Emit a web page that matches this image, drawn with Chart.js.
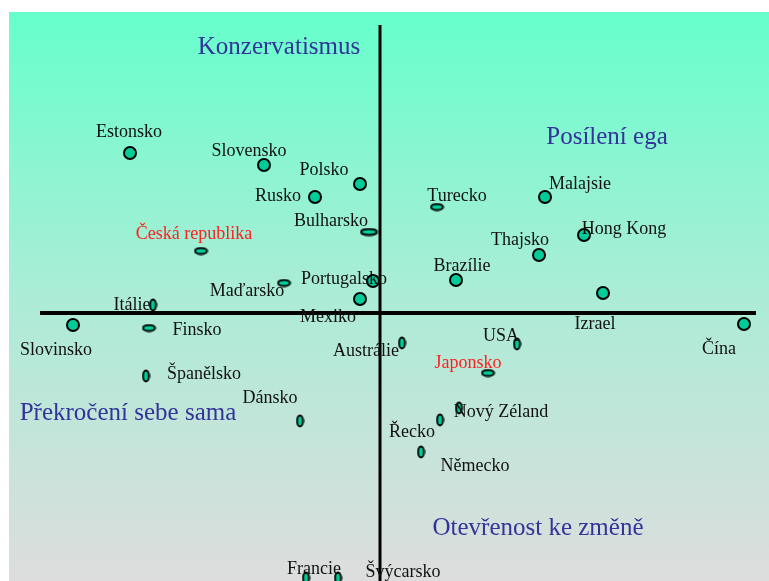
<!DOCTYPE html>
<html>
<head>
<meta charset="utf-8">
<script src="https://cdn.jsdelivr.net/npm/chart.js@4/dist/chart.umd.min.js"></script>
<style>
  body { margin: 0; background: #fff; }
  #wrap { width: 769px; height: 581px; }
</style>
</head>
<body>
<div id="wrap"><canvas id="chart" width="769" height="581"></canvas></div>
<script>
// countries and their positions on the two value dimensions
const countries = ["Estonsko", "Slovensko", "Polsko", "Rusko", "Bulharsko", "Česká republika", "Maďarsko",
  "Portugalsko", "Mexiko", "Itálie", "Slovinsko", "Finsko", "Španělsko", "Dánsko", "Francie", "Švýcarsko",
  "Austrálie", "USA", "Japonsko", "Nový Zéland", "Řecko", "Německo", "Izrael", "Čína", "Turecko",
  "Malajsie", "Hong Kong", "Thajsko", "Brazílie"];
const xValues = [-2.50, -1.16, -0.20, -0.65, -0.11, -1.79, -0.96,
  -0.07, -0.20, -2.27, -3.07, -2.31, -2.34, -0.80, -0.74, -0.42,
  0.22, 1.37, 1.08, 0.79, 0.60, 0.41, 2.23, 3.64, 0.57,
  1.65, 2.04, 1.59, 0.76];
const yValues = [1.60, 1.48, 1.29, 1.16, 0.81, 0.62, 0.30,
  0.32, 0.14, 0.08, -0.12, -0.15, -0.63, -1.08, -2.65, -2.65,
  -0.30, -0.31, -0.60, -0.95, -1.07, -1.39, 0.20, -0.11, 1.06,
  1.16, 0.78, 0.58, 0.33];
const highlighted = ["Česká republika", "Japonsko"];

// quadrant names
const quadrantNames = ["Konzervatismus", "Posílení ega", "Překročení sebe sama", "Otevřenost ke změně"];

// marker shape per country: c = circle, h = flat oval, w = wide oval, v = tall oval
const shapes = ["c", "c", "c", "c", "w", "h", "h",
  "c", "c", "v", "c", "h", "v", "v", "v", "v",
  "v", "v", "h", "v", "v", "v", "c", "c", "h",
  "c", "c", "c", "c"];
// label offset from the marker, px
const labelOffsets = [[-1, -23], [-15, -16], [-36, -16], [-37, -3], [-38, -13], [-7, -19], [-37, 6],
  [-29, -4], [-32, 16], [-21, -2], [-17, 23], [48, 0], [58, -4], [-30, -25], [8, -11], [65, -8],
  [-36, 6], [-16, -10], [-20, -12], [42, 2], [-28, 10], [54, 12], [-8, 29], [-25, 23], [20, -13],
  [35, -15], [40, -8], [-19, -17], [6, -16]];
const quadrantPos = [[-1.01, 2.68], [2.27, 1.78], [-2.52, -0.98], [1.58, -2.13]];

const FILL = "#00cc99";

function oval(rx, ry) {
  const c = document.createElement("canvas");
  c.width = rx * 2 + 3;
  c.height = ry * 2 + 3;
  const g = c.getContext("2d");
  g.beginPath();
  g.ellipse(c.width / 2, c.height / 2, rx, ry, 0, 0, Math.PI * 2);
  g.fillStyle = FILL;
  g.fill();
  g.lineWidth = 2;
  g.strokeStyle = "#000";
  g.stroke();
  return c;
}
const markers = { h: oval(6, 3), w: oval(8, 3), v: oval(3, 5.5) };

const points = countries.map((name, i) => ({ x: xValues[i], y: yValues[i] }));
const pointStyles = shapes.map(s => s === "c" ? "circle" : markers[s]);

const backgroundPlugin = {
  id: "bg",
  beforeDraw(chart) {
    const { ctx, chartArea: a } = chart;
    const grad = ctx.createLinearGradient(0, a.top, 0, a.bottom);
    grad.addColorStop(0, "#66ffcc");
    grad.addColorStop(0.5, "#acecd6");
    grad.addColorStop(1, "#dddddd");
    ctx.save();
    ctx.fillStyle = grad;
    ctx.fillRect(a.left, a.top, a.right - a.left, a.bottom - a.top);
    ctx.restore();
  }
};

const labelPlugin = {
  id: "labels",
  afterDatasetsDraw(chart) {
    const ctx = chart.ctx;
    const xs = chart.scales.x, ys = chart.scales.y;
    ctx.save();
    ctx.textAlign = "center";
    ctx.textBaseline = "middle";
    ctx.font = "18px 'Liberation Serif', 'Times New Roman', serif";
    countries.forEach((name, i) => {
      const px = xs.getPixelForValue(xValues[i]) + labelOffsets[i][0];
      const py = ys.getPixelForValue(yValues[i]) + labelOffsets[i][1] + 2;
      ctx.fillStyle = highlighted.includes(name) ? "#ff2020" : "#111111";
      ctx.fillText(name, px, py);
    });
    ctx.font = "25px 'Liberation Serif', 'Times New Roman', serif";
    ctx.fillStyle = "#333399";
    quadrantNames.forEach((t, i) => {
      ctx.fillText(t, xs.getPixelForValue(quadrantPos[i][0]), ys.getPixelForValue(quadrantPos[i][1]) + 2);
    });
    ctx.restore();
  }
};

new Chart(document.getElementById("chart"), {
  type: "scatter",
  data: {
    datasets: [
      {
        data: points,
        pointStyle: pointStyles,
        pointRadius: 6,
        pointBackgroundColor: FILL,
        pointBorderColor: "#000",
        pointBorderWidth: 2,
        order: 0
      },
      {
        data: [{ x: -3.40, y: 0 }, { x: 3.76, y: 0 }],
        showLine: true,
        borderColor: "#000",
        borderWidth: 4,
        pointRadius: 0,
        order: 1
      },
      {
        data: [{ x: 0, y: 2.88 }, { x: 0, y: -2.70 }],
        showLine: true,
        borderColor: "#000",
        borderWidth: 3,
        pointRadius: 0,
        order: 1
      }
    ]
  },
  options: {
    responsive: false,
    animation: false,
    layout: { autoPadding: false, padding: { left: 9, top: 12, right: 0, bottom: 0 } },
    plugins: { legend: { display: false }, tooltip: { enabled: false } },
    scales: {
      x: { type: "linear", min: -3.71, max: 3.89, display: false },
      y: { type: "linear", min: -2.68, max: 3.01, display: false }
    }
  },
  plugins: [backgroundPlugin, labelPlugin]
});
</script>
</body>
</html>
